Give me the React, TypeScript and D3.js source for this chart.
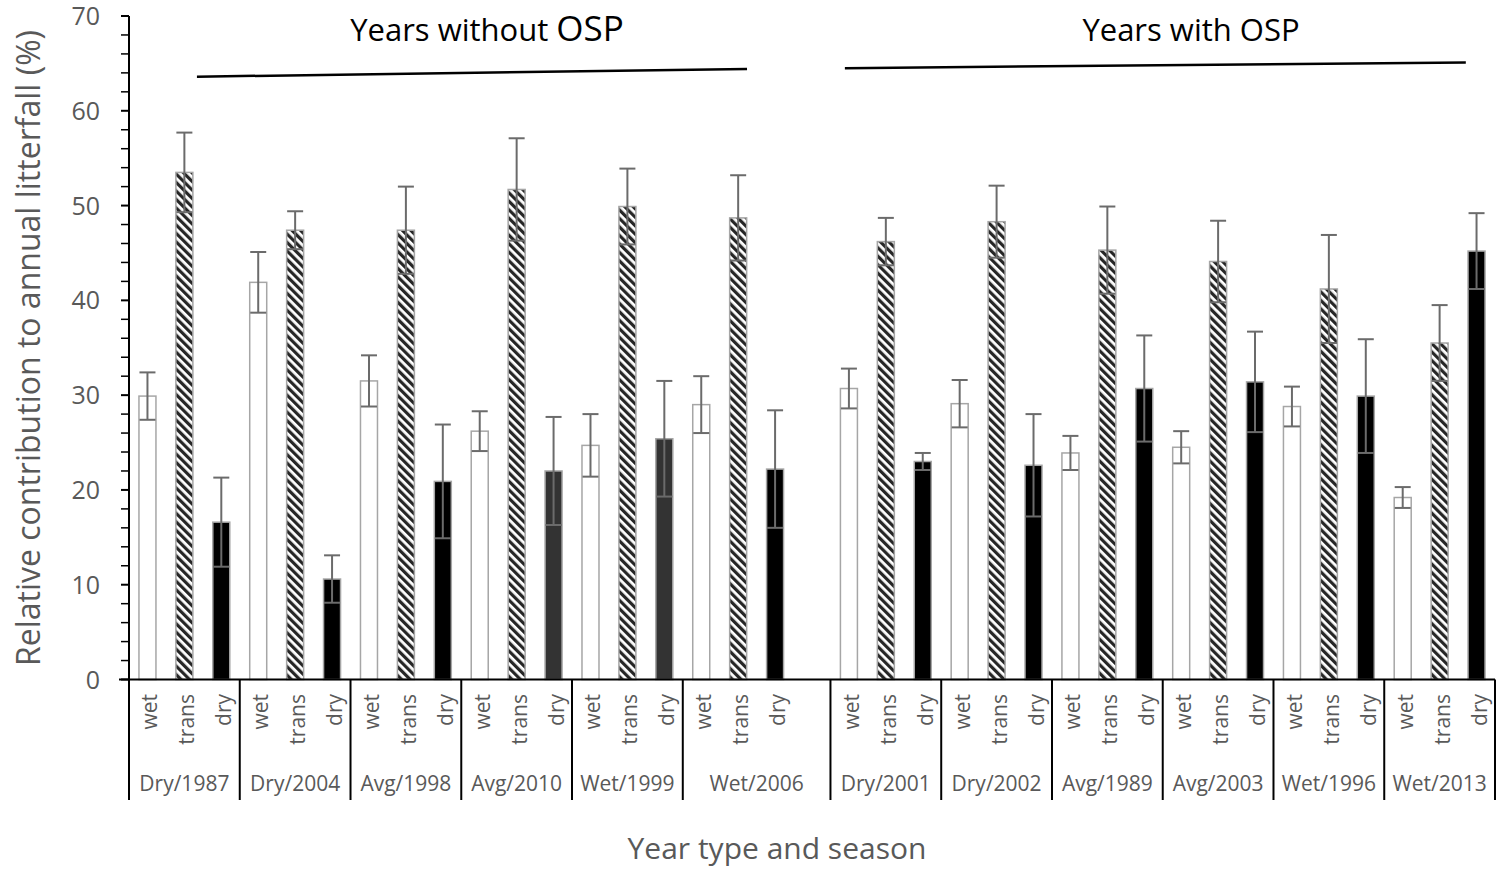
import React from "react";
import * as d3 from "d3";

// seasonal share of annual litterfall
const groups = [
  "Dry/1987", "Dry/2004", "Avg/1998", "Avg/2010", "Wet/1999", "Wet/2006",
  "Dry/2001", "Dry/2002", "Avg/1989", "Avg/2003", "Wet/1996", "Wet/2013",
];
const seasons = ["wet", "trans", "dry"];

const wetMean = [29.9, 41.9, 31.5, 26.2, 24.7, 29.0, 30.7, 29.1, 23.9, 24.5, 28.8, 19.2];
const wetErr = [2.5, 3.2, 2.7, 2.1, 3.3, 3.0, 2.1, 2.5, 1.8, 1.7, 2.1, 1.1];
const transMean = [53.5, 47.4, 47.4, 51.7, 49.9, 48.7, 46.2, 48.3, 45.3, 44.1, 41.2, 35.5];
const transErr = [4.2, 2.0, 4.6, 5.4, 4.0, 4.5, 2.5, 3.8, 4.6, 4.3, 5.7, 4.0];
const dryMean = [16.6, 10.6, 20.9, 22.0, 25.4, 22.2, 23.0, 22.6, 30.7, 31.4, 29.9, 45.2];
const dryErr = [4.7, 2.5, 6.0, 5.7, 6.1, 6.2, 0.9, 5.4, 5.6, 5.3, 6.0, 4.0];

const yTicks = [0, 10, 20, 30, 40, 50, 60, 70];
const yMinorTicks = d3.range(0, 71, 2);

const periodLabels = ["Years without ", "Years with "];

// layout
const W = 1512;
const H = 871;
const left = 129;
const right = 1495;
const top = 16;
const bottom = 679.5;
const gapAfterGroup = 5; // one empty slot after Wet/2006
const nSlots = groups.length * 3 + 1;

const grey = "#595959";
const font = "'Open Sans', sans-serif";
const darkDryGroups = new Set(["Avg/2010", "Wet/1999"]);

const x = d3.scaleLinear().domain([0, nSlots]).range([left, right]);
const y = d3.scaleLinear().domain([0, 70]).range([bottom, top]);

const slotOf = (g: number, s: number) => g * 3 + s + (g > gapAfterGroup ? 1 : 0);

type Bar = { g: number; s: number; mean: number; err: number };
const bars: Bar[] = [];
groups.forEach((_, g) => {
  [wetMean, transMean, dryMean].forEach((arr, s) => {
    const errs = [wetErr, transErr, dryErr][s];
    bars.push({ g, s, mean: arr[g], err: errs[g] });
  });
});

function fillFor(b: Bar) {
  if (b.s === 0) return "#ffffff";
  if (b.s === 1) return "url(#hatch)";
  return darkDryGroups.has(groups[b.g]) ? "#333333" : "#000000";
}

export default function App() {
  const barW = 17;
  const cap = 8;

  // group boundaries in slot units
  const bounds: number[] = [0];
  groups.forEach((_, g) => {
    bounds.push(slotOf(g, 2) + 1 + (g === gapAfterGroup ? 1 : 0));
  });
  const groupCenter = (g: number) => x((bounds[g] + bounds[g + 1]) / 2);

  // annotation lines over the two periods (slot units, value units)
  const spans = [
    { x0: 1.84, x1: 16.74, y0: 63.6, y1: 64.4 },
    { x0: 19.39, x1: 36.21, y0: 64.5, y1: 65.1 },
  ];

  return (
    <svg
      width={W}
      height={H}
      style={{ position: "absolute", left: 0, top: 0, background: "#fff" }}
    >
      <defs>
        <pattern
          id="hatch"
          patternUnits="userSpaceOnUse"
          width={6}
          height={6}
          patternTransform="rotate(-45)"
        >
          <rect width={6} height={6} fill="#fff" />
          <rect width={3.2} height={6} fill="#262626" />
        </pattern>
      </defs>

      {/* bars */}
      {bars.map((b, i) => {
        const cx = x(slotOf(b.g, b.s) + 0.5);
        return (
          <rect
            key={"b" + i}
            x={cx - barW / 2}
            y={y(b.mean)}
            width={barW}
            height={y(0) - y(b.mean)}
            fill={fillFor(b)}
            stroke="#a6a6a6"
            strokeWidth={1.5}
          />
        );
      })}

      {/* error bars */}
      {bars.map((b, i) => {
        const cx = x(slotOf(b.g, b.s) + 0.5);
        const hi = y(b.mean + b.err);
        const lo = y(b.mean - b.err);
        return (
          <g key={"e" + i} stroke="#6b6b6b" strokeWidth={2}>
            <line x1={cx} x2={cx} y1={hi} y2={lo} />
            <line x1={cx - cap} x2={cx + cap} y1={hi} y2={hi} />
            <line x1={cx - cap} x2={cx + cap} y1={lo} y2={lo} />
          </g>
        );
      })}

      {/* y axis */}
      <line x1={left} x2={left} y1={top} y2={bottom} stroke="#000" strokeWidth={2} />
      {yMinorTicks.map((t) => (
        <line key={"m" + t} x1={left - 8} x2={left} y1={y(t)} y2={y(t)} stroke="#000" strokeWidth={t % 10 === 0 ? 2 : 1.5} />
      ))}
      {yTicks.map((t) => (
        <text
          key={"t" + t}
          x={100}
          y={y(t)}
          dy="0.36em"
          textAnchor="end"
          fontFamily={font}
          fontSize={25}
          fill={grey}
        >
          {t}
        </text>
      ))}
      <text
        transform={`translate(40, 348) rotate(-90)`}
        textAnchor="middle"
        fontFamily={font}
        fontSize={32}
        fill={grey}
      >
        Relative contribution to annual litterfall (%)
      </text>

      {/* x axis with two-level labels */}
      <line x1={left - 10} x2={right} y1={bottom} y2={bottom} stroke="#000" strokeWidth={2} />
      {bounds.map((s, i) => (
        <line key={"s" + i} x1={x(s)} x2={x(s)} y1={bottom} y2={800} stroke="#000" strokeWidth={2} />
      ))}
      {bars.map((b, i) => {
        const cx = x(slotOf(b.g, b.s) + 0.5);
        return (
          <text
            key={"l" + i}
            transform={`translate(${cx + 10}, 694) rotate(-90)`}
            textAnchor="end"
            fontFamily={font}
            fontSize={21}
            fill={grey}
          >
            {seasons[b.s]}
          </text>
        );
      })}
      {groups.map((g, i) => (
        <text
          key={"g" + i}
          x={groupCenter(i)}
          y={791}
          textAnchor="middle"
          fontFamily={font}
          fontSize={21}
          fill={grey}
        >
          {g}
        </text>
      ))}
      <text x={777} y={859} textAnchor="middle" fontFamily={font} fontSize={30} fill={grey}>
        Year type and season
      </text>

      {/* period annotations */}
      {spans.map((sp, i) => (
        <line
          key={"p" + i}
          x1={x(sp.x0)}
          x2={x(sp.x1)}
          y1={y(sp.y0)}
          y2={y(sp.y1)}
          stroke="#000"
          strokeWidth={2.5}
        />
      ))}
      <text x={487} y={41} textAnchor="middle" fontFamily={font} fontSize={31} fill="#000">
        {periodLabels[0]}
        <tspan fontSize={35}>OSP</tspan>
      </text>
      <text x={1191} y={41} textAnchor="middle" fontFamily={font} fontSize={31} fill="#000">
        {periodLabels[1]}OSP
      </text>
    </svg>
  );
}
